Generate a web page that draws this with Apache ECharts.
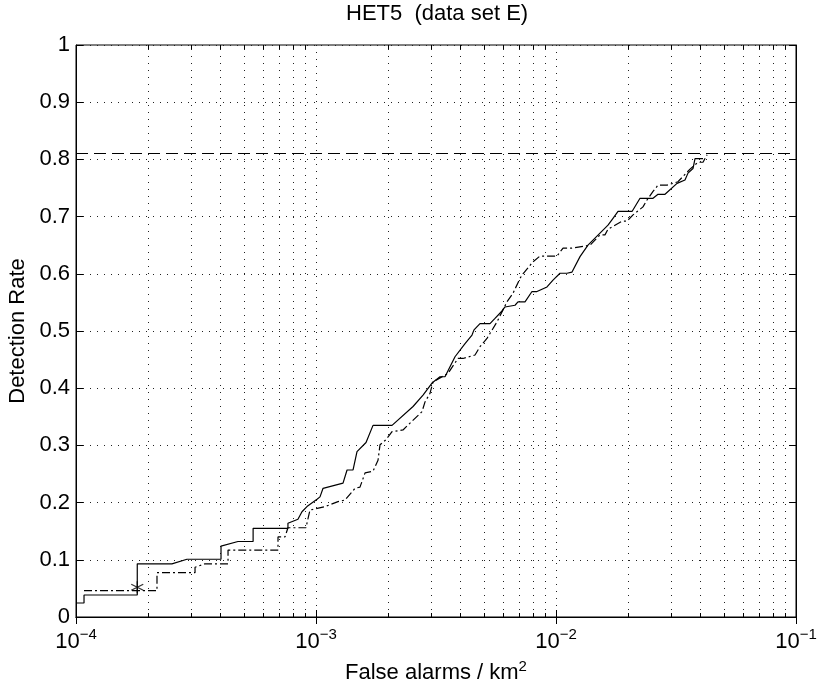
<!DOCTYPE html>
<html><head><meta charset="utf-8">
<script src="https://cdn.jsdelivr.net/npm/echarts@6/dist/echarts.min.js"></script>
<style>html,body{margin:0;padding:0;background:#fff}#c{width:818px;height:685px}</style>
</head><body><div id="c"></div>
<script>
const titleText = 'HET5  (data set E)';
const xName = 'False alarms / km';
const yName = 'Detection Rate';
const xMin = 1e-4, xMax = 1e-1;
const minorDecades = [1e-4, 1e-3, 1e-2];
const minorMultipliers = [2, 3, 4, 5, 6, 7, 8, 9];

// solid curve
const solidX = [1.00e-4,1.08e-4,1.08e-4,1.80e-4,1.80e-4,2.51e-4,2.90e-4,4.02e-4,4.02e-4,4.73e-4,5.47e-4,5.47e-4,
  7.64e-4,7.64e-4,8.41e-4,8.74e-4,9.17e-4,1.010e-3,1.039e-3,1.070e-3,1.296e-3,1.347e-3,1.427e-3,1.482e-3,1.616e-3,
  1.728e-3,2.074e-3,2.537e-3,2.792e-3,3.043e-3,3.286e-3,3.447e-3,3.795e-3,4.178e-3,4.467e-3,4.554e-3,4.823e-3,
  5.309e-3,5.569e-3,5.957e-3,6.131e-3,6.748e-3,6.945e-3,7.428e-3,7.943e-3,8.333e-3,9.173e-3,9.716e-3,1.039e-2,
  1.111e-2,1.166e-2,1.259e-2,1.359e-2,1.525e-2,1.647e-2,1.728e-2,1.813e-2,2.074e-2,2.239e-2,2.537e-2,2.661e-2,
  2.846e-2,3.193e-2,3.447e-2,3.548e-2,3.722e-2,3.795e-2,4.098e-2];
const solidY = [0.0245,0.0245,0.0385,0.0385,0.093,0.093,0.101,0.101,0.124,0.132,0.132,0.155,
  0.155,0.164,0.171,0.184,0.193,0.206,0.210,0.225,0.234,0.257,0.257,0.289,0.305,
  0.335,0.335,0.368,0.388,0.409,0.420,0.420,0.455,0.478,0.493,0.502,0.513,
  0.513,0.522,0.535,0.542,0.545,0.551,0.551,0.569,0.569,0.577,0.589,0.601,
  0.601,0.603,0.630,0.650,0.671,0.685,0.697,0.709,0.709,0.732,0.732,0.739,
  0.739,0.758,0.764,0.776,0.784,0.8015,0.8015];

// dash-dot curve
const dashX = [1.08e-4,2.175e-4,2.175e-4,3.133e-4,3.133e-4,3.447e-4,4.30e-4,4.30e-4,6.945e-4,6.945e-4,7.428e-4,7.64e-4,
  9.08e-4,9.44e-4,1.090e-3,1.235e-3,1.321e-3,1.454e-3,1.525e-3,1.601e-3,1.728e-3,1.813e-3,1.848e-3,1.957e-3,2.074e-3,
  2.304e-3,2.465e-3,2.765e-3,2.846e-3,2.985e-3,3.073e-3,3.548e-3,3.906e-3,4.098e-3,4.598e-3,4.823e-3,5.158e-3,
  5.678e-3,6.250e-3,6.622e-3,7.079e-3,7.286e-3,8.02e-3,8.577e-3,1.010e-2,1.070e-2,1.166e-2,1.386e-2,1.525e-2,
  1.600e-2,1.647e-2,1.884e-2,1.976e-2,2.094e-2,2.304e-2,2.394e-2,2.537e-2,2.661e-2,2.900e-2,3.224e-2,3.617e-2,
  3.906e-2,4.098e-2,4.259e-2];
const dashY = [0.046,0.046,0.0775,0.0775,0.087,0.093,0.093,0.117,0.117,0.140,0.140,0.156,
  0.156,0.187,0.193,0.2016,0.2045,0.225,0.227,0.252,0.255,0.274,0.301,0.310,0.324,
  0.327,0.339,0.359,0.376,0.391,0.411,0.426,0.452,0.452,0.458,0.4726,0.487,
  0.516,0.551,0.566,0.592,0.600,0.621,0.631,0.631,0.645,0.645,0.650,0.668,
  0.668,0.678,0.692,0.692,0.703,0.717,0.729,0.744,0.755,0.755,0.761,0.783,
  0.795,0.795,0.808];

const markerX = [1.80e-4];
const markerY = [0.052];
const refLevel = 0.805;

const FONT = 'Liberation Sans, Arial, Helvetica, sans-serif';
const FS = 22;
const zip = (xs, ys) => xs.map((x, i) => [x, ys[i]]);
const minorVals = [];
minorDecades.forEach(d => minorMultipliers.forEach(m => minorVals.push(d * m)));

const gridDotted = { color: '#222', width: 1, type: [1, 6] };

function renderMinor(params, api) {
  const v = api.value(0);
  const p0 = api.coord([v, 0]);
  const p1 = api.coord([v, 1]);
  const x = Math.round(p0[0]) + 0.5;
  return {
    type: 'group',
    children: [
      { type: 'line', shape: { x1: x, y1: p0[1], x2: x, y2: p1[1] },
        style: { stroke: gridDotted.color, lineWidth: 1, lineDash: [1, 6] } },
      { type: 'line', shape: { x1: x, y1: p0[1], x2: x, y2: p0[1] - 4 },
        style: { stroke: '#000', lineWidth: 1 } },
      { type: 'line', shape: { x1: x, y1: p1[1], x2: x, y2: p1[1] + 4 },
        style: { stroke: '#000', lineWidth: 1 } }
    ]
  };
}

const chart = echarts.init(document.getElementById('c'), null, { renderer: 'canvas' });
chart.setOption({
  animation: false,
  backgroundColor: '#fff',
  title: {
    text: titleText, left: 346, top: 0, padding: 0,
    textStyle: { fontFamily: FONT, fontSize: FS, fontWeight: 'normal', color: '#000', lineHeight: 28 }
  },
  grid: { left: 76, right: 22, top: 45, bottom: 68, show: true, borderColor: '#000', borderWidth: 1,
    backgroundColor: 'transparent', containLabel: false, outerBoundsMode: 'none' },
  xAxis: [{
    type: 'log', logBase: 10, min: xMin, max: xMax, position: 'bottom',
    name: '{a|' + xName + '}{s|2}', nameLocation: 'middle', nameGap: 42,
    nameTextStyle: { rich: {
      a: { fontFamily: FONT, fontSize: FS, color: '#000' },
      s: { fontFamily: FONT, fontSize: 15, color: '#000', padding: [0, 0, 12, 0] }
    } },
    axisLine: { show: true, lineStyle: { color: '#000', width: 1 } },
    axisTick: { show: true, inside: true, length: 7, lineStyle: { color: '#000' } },
    splitLine: { show: true, lineStyle: gridDotted },
    minorTick: { show: false }, minorSplitLine: { show: false },
    axisLabel: {
      margin: 10,
      formatter: v => '{b|10}{s|\u2212' + Math.abs(Math.round(Math.log10(v))) + '}',
      rich: {
        b: { fontFamily: FONT, fontSize: FS, color: '#000' },
        s: { fontFamily: FONT, fontSize: 15, color: '#000', padding: [0, 0, 14, 0] }
      }
    }
  }, {
    type: 'log', logBase: 10, min: xMin, max: xMax, position: 'top',
    axisLine: { show: true, lineStyle: { color: '#000' } },
    axisTick: { show: true, inside: true, length: 7, lineStyle: { color: '#000' } },
    axisLabel: { show: false }, splitLine: { show: false }
  }],
  yAxis: [{
    type: 'value', min: 0, max: 1, interval: 0.1, position: 'left',
    name: yName, nameLocation: 'middle', nameGap: 43,
    nameTextStyle: { fontFamily: FONT, fontSize: FS, color: '#000' },
    axisLine: { show: true, lineStyle: { color: '#000' } },
    axisTick: { show: true, inside: true, length: 7, lineStyle: { color: '#000' } },
    splitLine: { show: true, lineStyle: gridDotted },
    axisLabel: { margin: 6, fontFamily: FONT, fontSize: FS, color: '#000',
      formatter: v => (Math.round(v * 10) / 10).toString() }
  }, {
    type: 'value', min: 0, max: 1, interval: 0.1, position: 'right',
    axisLine: { show: true, lineStyle: { color: '#000' } },
    axisTick: { show: true, inside: true, length: 7, lineStyle: { color: '#000' } },
    axisLabel: { show: false }, splitLine: { show: false }
  }],
  series: [
    {
      type: 'custom', name: 'minor', silent: true, z: 1,
      data: minorVals.map(v => [v, 0]),
      encode: { x: 0, y: 1 },
      renderItem: renderMinor
    },
    {
      type: 'line', name: 'solid', data: zip(solidX, solidY), showSymbol: false,
      lineStyle: { color: '#000', width: 1.2, type: 'solid' }, z: 5,
      markLine: { silent: true, symbol: 'none', label: { show: false },
        lineStyle: { color: '#000', width: 1, type: [12, 6] }, data: [{ yAxis: refLevel }] }
    },
    {
      type: 'line', name: 'dashdot', data: zip(dashX, dashY), showSymbol: false,
      lineStyle: { color: '#000', width: 1.2, type: [8, 3, 2, 3] }, z: 4
    },
    {
      type: 'scatter', name: 'marker', data: zip(markerX, markerY), z: 6,
      symbol: 'path://M0,-5L0,5M-4.33,-2.5L4.33,2.5M-4.33,2.5L4.33,-2.5', symbolSize: 12,
      itemStyle: { color: 'none', borderColor: '#000', borderWidth: 1.3 }
    }
  ]
});
</script></body></html>
